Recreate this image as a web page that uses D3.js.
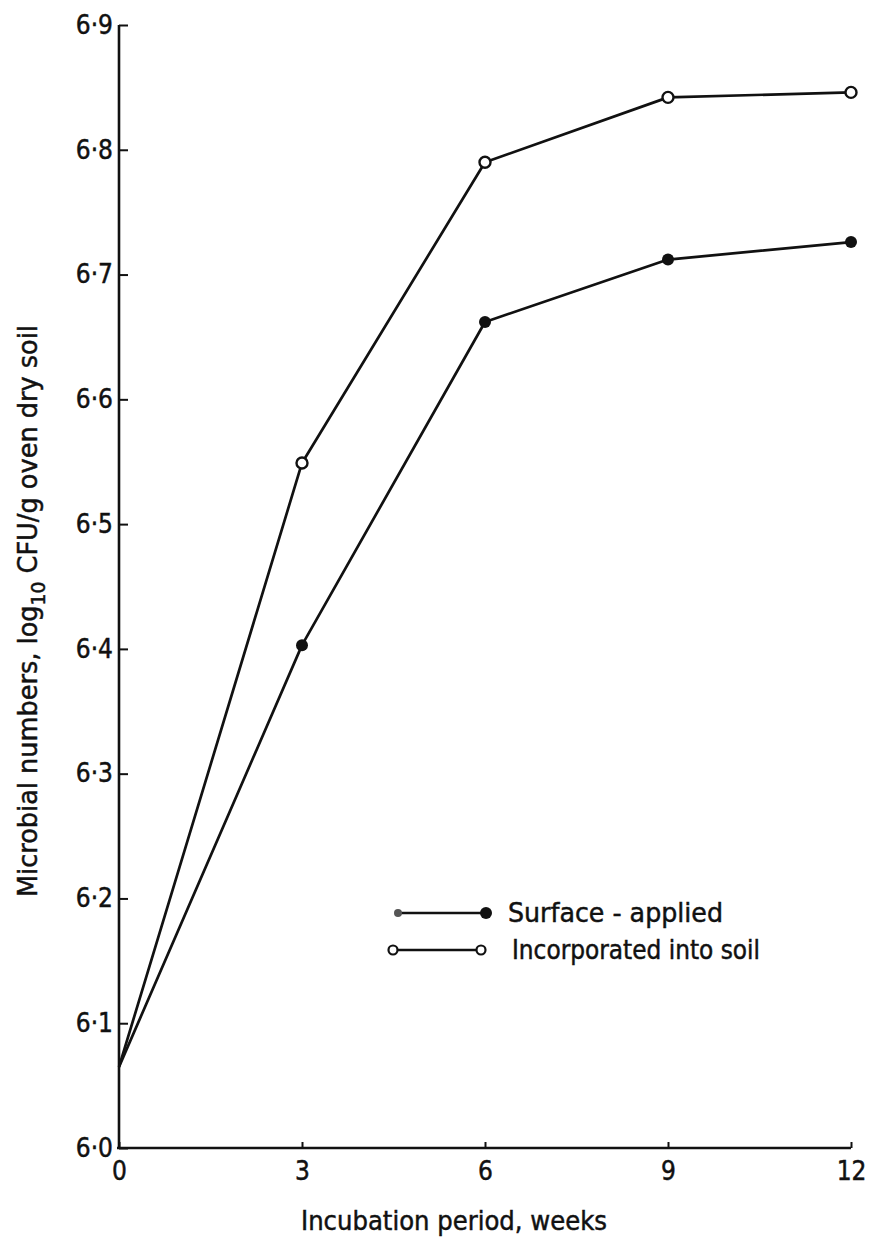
<!DOCTYPE html>
<html>
<head>
<meta charset="utf-8">
<script src="https://cdn.jsdelivr.net/npm/d3@7"></script>
<style>
  html, body { margin: 0; padding: 0; background: #fff; }
  svg { display: block; }
  text { font-family: "DejaVu Sans Condensed", "DejaVu Sans", sans-serif; fill: #111; stroke: #111; stroke-width: 0.45px; }
</style>
</head>
<body>
<svg id="chart" width="871" height="1247"></svg>
<script>
// ---- data ----
const weeks = [0, 3, 6, 9, 12];
const surfaceApplied = [6.065, 6.403, 6.662, 6.712, 6.726];
const incorporated = [6.065, 6.549, 6.79, 6.842, 6.846];
const xTicks = [0, 3, 6, 9, 12];
const yTicks = [6.0, 6.1, 6.2, 6.3, 6.4, 6.5, 6.6, 6.7, 6.8, 6.9];
const seriesNames = ["Surface - applied", "Incorporated into soil"];
const xTitle = "Incubation period, weeks";

const svg = d3.select("#chart");
const ink = "#111";

const x = d3.scaleLinear().domain([0, 12]).range([119, 851]);
const y = d3.scaleLinear().domain([6.0, 6.9]).range([1148, 25]);

// y axis (ticks pointing inward, to the right)
const yAxis = d3.axisRight(y)
  .tickValues(yTicks)
  .tickSize(9)
  .tickFormat(d => d3.format(".1f")(d).replace(".", "·"));
const gy = svg.append("g").attr("transform", `translate(${x(0)},0)`).call(yAxis);
gy.select(".domain").remove();
gy.selectAll(".tick line").attr("stroke", ink).attr("stroke-width", 2);
gy.selectAll(".tick text")
  .attr("x", -6).attr("dy", "0.32em")
  .attr("text-anchor", "end")
  .style("font-size", "26px");
svg.append("line")
  .attr("x1", x(0)).attr("x2", x(0))
  .attr("y1", y(6.9)).attr("y2", y(6.0) + 1)
  .attr("stroke", ink).attr("stroke-width", 2.6);

// x axis (ticks pointing up)
const xAxis = d3.axisBottom(x)
  .tickValues(xTicks)
  .tickSize(-6)
  .tickFormat(d3.format("d"));
const gx = svg.append("g").attr("transform", `translate(0,${y(6.0)})`).call(xAxis);
gx.select(".domain").remove();
gx.selectAll(".tick line").attr("stroke", ink).attr("stroke-width", 2);
gx.selectAll(".tick text")
  .attr("y", 14).attr("dy", "0.71em")
  .style("font-size", "26px");
svg.append("line")
  .attr("x1", x(0) - 2).attr("x2", x(12))
  .attr("y1", y(6.0)).attr("y2", y(6.0))
  .attr("stroke", ink).attr("stroke-width", 2.6);

// axis titles
svg.append("text")
  .attr("x", 454).attr("y", 1230)
  .attr("text-anchor", "middle")
  .attr("textLength", 306).attr("lengthAdjust", "spacingAndGlyphs")
  .style("font-size", "26px")
  .text(xTitle);

const yt = svg.append("text")
  .attr("transform", `translate(37,611) rotate(-90)`)
  .attr("text-anchor", "middle")
  .attr("textLength", 572).attr("lengthAdjust", "spacingAndGlyphs")
  .style("font-size", "26px");
yt.append("tspan").text("Microbial numbers, log");
yt.append("tspan").attr("dy", 8).style("font-size", "19px").text("10");
yt.append("tspan").attr("dy", -8).text(" CFU/g oven dry soil");

// lines
const line = d3.line().x((d, i) => x(weeks[i])).y(d => y(d));
[surfaceApplied, incorporated].forEach(vals => {
  svg.append("path")
    .datum(vals)
    .attr("d", line)
    .attr("fill", "none")
    .attr("stroke", ink)
    .attr("stroke-width", 2.7)
    .attr("stroke-linejoin", "round");
});

// markers (skip week 0 where both lines start)
svg.selectAll(".ptS")
  .data(surfaceApplied.slice(1))
  .join("circle")
  .attr("cx", (d, i) => x(weeks[i + 1]))
  .attr("cy", d => y(d))
  .attr("r", 6)
  .attr("fill", ink);
svg.selectAll(".ptI")
  .data(incorporated.slice(1))
  .join("circle")
  .attr("cx", (d, i) => x(weeks[i + 1]))
  .attr("cy", d => y(d))
  .attr("r", 5.5)
  .attr("fill", "#fff")
  .attr("stroke", ink)
  .attr("stroke-width", 2.4);

// legend
const lg = svg.append("g");
const rowY = [913, 950];
lg.append("line").attr("x1", 398).attr("x2", 486).attr("y1", rowY[0]).attr("y2", rowY[0])
  .attr("stroke", ink).attr("stroke-width", 2.6);
lg.append("circle").attr("cx", 398).attr("cy", rowY[0]).attr("r", 4).attr("fill", "#555");
lg.append("circle").attr("cx", 486).attr("cy", rowY[0]).attr("r", 6).attr("fill", ink);
lg.append("line").attr("x1", 398).attr("x2", 476).attr("y1", rowY[1]).attr("y2", rowY[1])
  .attr("stroke", ink).attr("stroke-width", 2.6);
[393, 481].forEach(cx => {
  lg.append("circle").attr("cx", cx).attr("cy", rowY[1]).attr("r", 4.5)
    .attr("fill", "#fff").attr("stroke", ink).attr("stroke-width", 2.2);
});
lg.append("text").attr("x", 508).attr("y", rowY[0] + 9)
  .attr("textLength", 215).attr("lengthAdjust", "spacingAndGlyphs")
  .style("font-size", "26px").text(seriesNames[0]);
lg.append("text").attr("x", 512).attr("y", rowY[1] + 9)
  .attr("textLength", 248).attr("lengthAdjust", "spacingAndGlyphs")
  .style("font-size", "26px").text(seriesNames[1]);
</script>
</body>
</html>
